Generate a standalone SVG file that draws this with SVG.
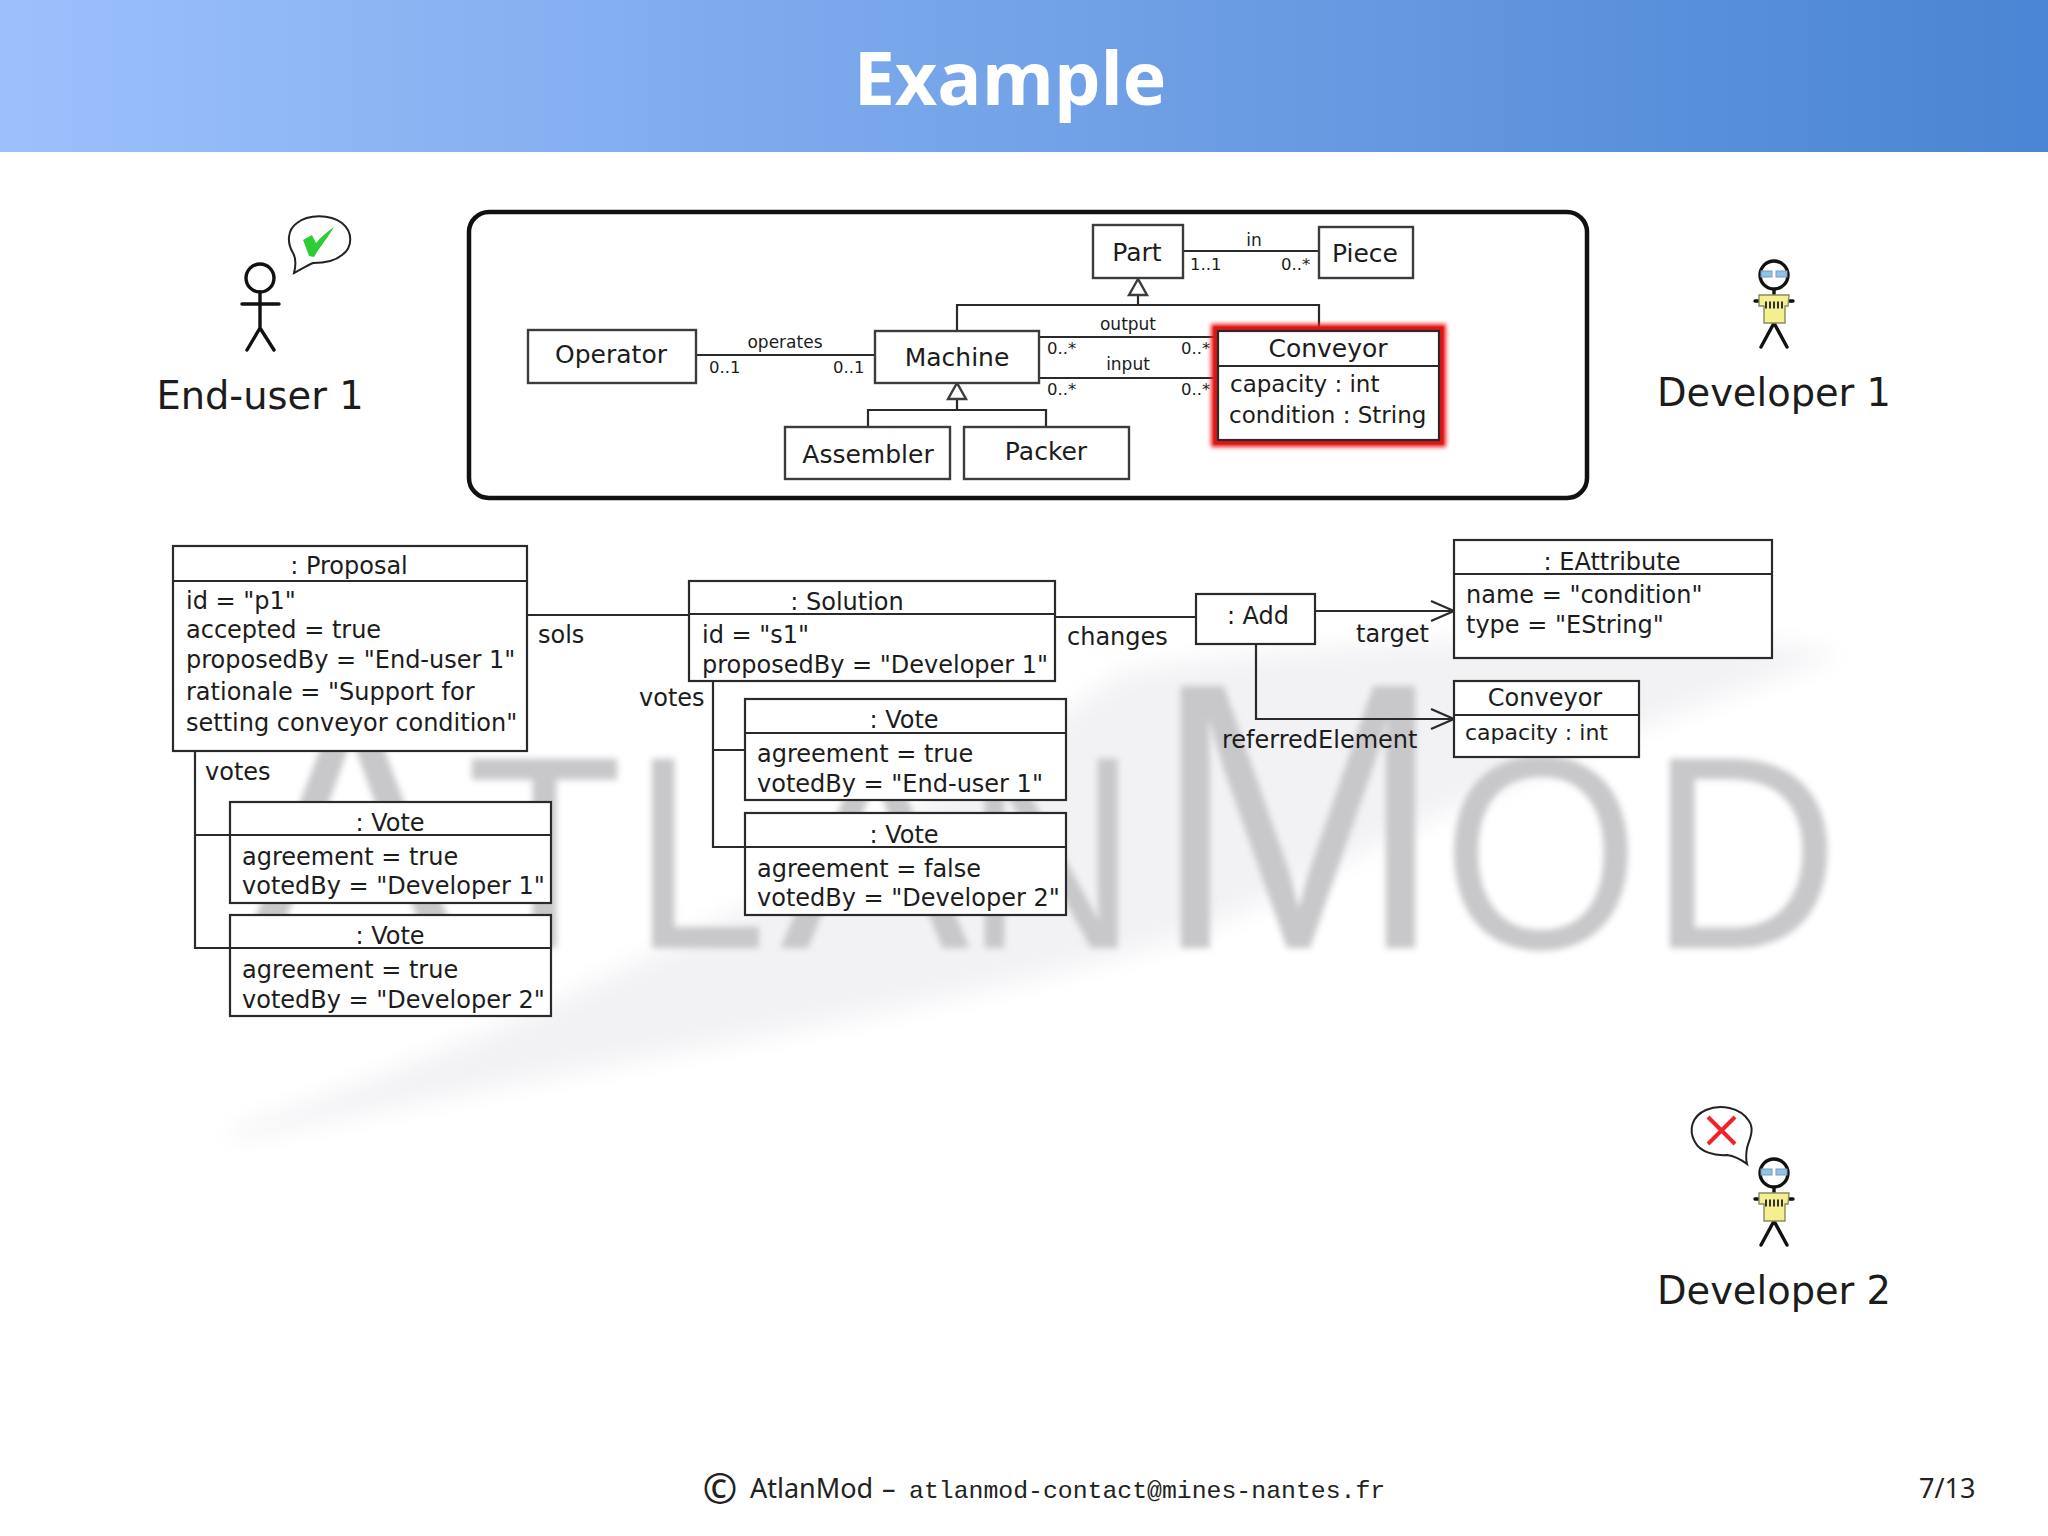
<svg xmlns="http://www.w3.org/2000/svg" xmlns:xlink="http://www.w3.org/1999/xlink" width="2048" height="1536" viewBox="0 0 2048 1536">
<style>
text{font-family:"DejaVu Sans",sans-serif;fill:#1c1c1c}
.box{fill:#fff;stroke:#2a2a2a;stroke-width:2.2}
.cls{fill:#fff;stroke:#3c3c3c;stroke-width:2.4}
.ln{fill:none;stroke:#2a2a2a;stroke-width:2.2}
.s25{font-size:25px}.s24{font-size:24px}.s23{font-size:23px}.s22{font-size:22px}.s17{font-size:17px}.s16{font-size:16.5px}.s37{font-size:38.4px}
.m{text-anchor:middle}
.wm{font-family:"Liberation Sans",sans-serif;fill:#c8c7ca}
.fo{font-family:"Noto Sans",sans-serif;font-size:27px;fill:#222}
.st{fill:none;stroke:#111;stroke-width:3.4;stroke-linecap:round}
.bub{fill:#fff;stroke:#222;stroke-width:2}
</style>
<defs>
<linearGradient id="hd" x1="0" x2="1" y1="0" y2="0"><stop offset="0" stop-color="#9cc0fc"/><stop offset="1" stop-color="#4a85d3"/></linearGradient>
<filter id="b8" x="-10%" y="-10%" width="120%" height="120%"><feGaussianBlur stdDeviation="3"/></filter>
<filter id="b16" x="-10%" y="-30%" width="120%" height="160%"><feGaussianBlur stdDeviation="12"/></filter>
<filter id="gl" x="-10%" y="-10%" width="120%" height="120%"><feGaussianBlur stdDeviation="2"/></filter>
<g id="dev">
<path class="st" d="M0,14V21M-19,26H19M0,48L-13,72M0,48L13,72"/>
<circle r="14" fill="#fff" stroke="#111" stroke-width="3.4"/>
<rect x="-13" y="-4" width="11" height="6" fill="#8fc4ea" stroke="#7a9ab5"/>
<rect x="2" y="-4" width="11" height="6" fill="#8fc4ea" stroke="#7a9ab5"/>
<path d="M-15,20H15L14,31H11V48H-10V31H-15Z" fill="#f5f08f" stroke="#8a8a60" stroke-width="1.4"/>
<path d="M-9,30H10" stroke="#333" stroke-width="7" stroke-dasharray="2 2" fill="none"/>
</g>
</defs>
<rect width="2048" height="1536" fill="#fff"/>
<g id="watermark">
<path d="M232,1140C600,1060 900,1020 1176,940C1330,880 1440,790 1840,655C1700,625 1300,640 1122,673C950,800 600,1010 232,1130Z" fill="#f2f1f4" filter="url(#b16)"/>
<g filter="url(#b8)">
<text class="wm" x="243" y="948" font-size="345" textLength="217" lengthAdjust="spacingAndGlyphs">A</text>
<text class="wm" x="466" y="948" font-size="275" textLength="157" lengthAdjust="spacingAndGlyphs">T</text>
<text class="wm" x="632" y="948" font-size="275" textLength="135" lengthAdjust="spacingAndGlyphs">L</text>
<text class="wm" x="780" y="948" font-size="275" textLength="190" lengthAdjust="spacingAndGlyphs">A</text>
<text class="wm" x="965" y="948" font-size="275" textLength="172" lengthAdjust="spacingAndGlyphs">N</text>
<text class="wm" x="1152" y="948" font-size="381" textLength="292" lengthAdjust="spacingAndGlyphs">M</text>
<text class="wm" x="1442" y="948" font-size="275" textLength="198" lengthAdjust="spacingAndGlyphs">O</text>
<text class="wm" x="1648" y="948" font-size="275" textLength="192" lengthAdjust="spacingAndGlyphs">D</text>
</g>
</g>
<rect id="header" width="2048" height="152" fill="url(#hd)"/>
<text id="title" x="1010" y="105" text-anchor="middle" style="font-family:'Open Sans',sans-serif;font-weight:700;font-size:73.5px;fill:#fff">Example</text>
<rect id="frame" x="469" y="212" width="1118" height="286" rx="20" fill="#fff" stroke="#111" stroke-width="4.5"/>
<g id="actor-enduser1">
<circle cx="260" cy="278" r="14" fill="#fff" stroke="#111" stroke-width="3.4"/>
<path class="st" d="M260,292V328M242,304H279M260,328L247,350M260,328L274,350"/>
<path class="bub" d="M294,273C296,265 296,258 293,253C287,243 287,230 297,223C308,214 330,214 342,223C353,232 353,247 342,255C334,262 320,263 313,263C306,266 300,270 294,273Z"/>
<path d="M303,240L312,235L316,243C322,236 328,231 334,227C329,236 320,247 314,257L309,256C307,250 305,245 303,240Z" fill="#2ecc35"/>
<text class="s37 m" x="260" y="409">End-user 1</text>
</g>
<g id="actor-developer1">
<use xlink:href="#dev" href="#dev" x="1774" y="275"/>
<text class="s37 m" x="1774" y="406">Developer 1</text>
</g>
<g id="actor-developer2">
<use xlink:href="#dev" href="#dev" x="1774" y="1173"/>
<path class="bub" d="M1747,1164C1743,1161 1735,1156 1727,1155C1715,1156 1700,1152 1695,1142C1688,1130 1692,1116 1706,1110C1720,1104 1740,1107 1749,1121C1755,1130 1749,1140 1747,1148C1746,1154 1746,1160 1747,1164Z"/>
<path d="M1708,1117L1735,1144M1735,1117L1708,1144" stroke="#f2222a" stroke-width="4" fill="none"/>
<text class="s37 m" x="1774" y="1304">Developer 2</text>
</g>
<g id="connectors">
<path class="ln" d="M696,355H875"/>
<path class="ln" d="M957,399V410M868,427V410H1046V427"/>
<path class="ln" d="M1138,295V305M957,331V305H1319V331"/>
<path class="ln" d="M1039,337H1218M1039,378H1218"/>
<path class="ln" d="M1183,251H1319"/>
<path class="ln" d="M527,615H689"/>
<path class="ln" d="M195,751V948H230M195,835H230"/>
<path class="ln" d="M713,681V847H745M713,750H745"/>
<path class="ln" d="M1055,617H1196"/>
<path class="ln" d="M1315,611H1454M1431,601L1454,611L1431,621"/>
<path class="ln" d="M1256,644V719H1454M1431,709L1454,719L1431,729"/>
<path class="cls" d="M957,383L948,399H966Z"/>
<path class="cls" d="M1138,279L1129,295H1147Z"/>
</g>
<g id="edge-labels">
<text class="s17 m" x="785" y="348">operates</text>
<text class="s16" x="709" y="373">0..1</text><text class="s16" x="833" y="373">0..1</text>
<text class="s16" x="1047" y="354">0..*</text><text class="s16" x="1047" y="395">0..*</text>
<text class="s16" x="1181" y="354">0..*</text><text class="s16" x="1181" y="395">0..*</text>
<text class="s17 m" x="1128" y="330">output</text><text class="s17 m" x="1128" y="370">input</text>
<text class="s17 m" x="1254" y="246">in</text>
<text class="s16" x="1190" y="270">1..1</text><text class="s16" x="1281" y="270">0..*</text>
<text class="s24" x="538" y="643">sols</text>
<text class="s24" x="205" y="780">votes</text>
<text class="s24" x="639" y="706">votes</text>
<text class="s24" x="1067" y="645">changes</text>
<text class="s24" x="1356" y="642">target</text>
<text class="s24" x="1222" y="748">referredElement</text>
</g>
<g id="class-operator"><rect class="cls" x="528" y="330" width="168" height="53"/><text class="s25 m" x="611" y="363">Operator</text></g>
<g id="class-machine"><rect class="cls" x="875" y="331" width="164" height="52"/><text class="s25 m" x="957" y="366">Machine</text></g>
<g id="class-assembler"><rect class="cls" x="785" y="427" width="165" height="52"/><text class="s25 m" x="868" y="463">Assembler</text></g>
<g id="class-packer"><rect class="cls" x="964" y="427" width="165" height="52"/><text class="s25 m" x="1046" y="460">Packer</text></g>
<g id="class-part"><rect class="cls" x="1093" y="225" width="90" height="53"/><text class="s25 m" x="1137" y="261">Part</text></g>
<g id="class-piece"><rect class="cls" x="1319" y="227" width="94" height="51"/><text class="s25 m" x="1365" y="262">Piece</text></g>
<g id="class-conveyor">
<rect x="1215" y="328" width="227" height="115" fill="none" stroke="#f01c1c" stroke-width="8" filter="url(#gl)"/>
<rect x="1216" y="329" width="225" height="113" fill="none" stroke="#d81818" stroke-width="5"/>
<rect class="box" x="1218" y="331" width="221" height="109"/>
<path class="ln" d="M1218,366H1439"/>
<text class="s25 m" x="1328" y="357">Conveyor</text>
<text class="s23" x="1230" y="392">capacity : int</text>
<text class="s23" x="1229" y="423">condition : String</text>
</g>
<g id="obj-proposal">
<rect class="box" x="173" y="546" width="354" height="205"/><path class="ln" d="M173,581H527"/>
<text class="s24 m" x="349" y="574">: Proposal</text>
<text class="s24" x="186" y="609">id = "p1"</text>
<text class="s24" x="186" y="638">accepted = true</text>
<text class="s24" x="186" y="668">proposedBy = "End-user 1"</text>
<text class="s24" x="186" y="700">rationale = "Support for</text>
<text class="s24" x="186" y="731">setting conveyor condition"</text>
</g>
<g id="obj-vote-d1">
<rect class="box" x="230" y="802" width="321" height="101"/><path class="ln" d="M230,835H551"/>
<text class="s24 m" x="390" y="831">: Vote</text>
<text class="s24" x="242" y="865">agreement = true</text>
<text class="s24" x="242" y="894">votedBy = "Developer 1"</text>
</g>
<g id="obj-vote-d2">
<rect class="box" x="230" y="915" width="321" height="101"/><path class="ln" d="M230,948H551"/>
<text class="s24 m" x="390" y="944">: Vote</text>
<text class="s24" x="242" y="978">agreement = true</text>
<text class="s24" x="242" y="1008">votedBy = "Developer 2"</text>
</g>
<g id="obj-solution">
<rect class="box" x="689" y="581" width="366" height="100"/><path class="ln" d="M689,614H1055"/>
<text class="s24 m" x="847" y="610">: Solution</text>
<text class="s24" x="702" y="643">id = "s1"</text>
<text class="s24" x="702" y="673">proposedBy = "Developer 1"</text>
</g>
<g id="obj-vote-e1">
<rect class="box" x="745" y="699" width="321" height="101"/><path class="ln" d="M745,733H1066"/>
<text class="s24 m" x="904" y="728">: Vote</text>
<text class="s24" x="757" y="762">agreement = true</text>
<text class="s24" x="757" y="792">votedBy = "End-user 1"</text>
</g>
<g id="obj-vote-d2b">
<rect class="box" x="745" y="813" width="321" height="102"/><path class="ln" d="M745,847H1066"/>
<text class="s24 m" x="904" y="843">: Vote</text>
<text class="s24" x="757" y="877">agreement = false</text>
<text class="s24" x="757" y="906">votedBy = "Developer 2"</text>
</g>
<g id="obj-add"><rect class="box" x="1196" y="594" width="119" height="50"/><text class="s24 m" x="1258" y="624">: Add</text></g>
<g id="obj-eattribute">
<rect class="box" x="1454" y="540" width="318" height="118"/><path class="ln" d="M1454,574H1772"/>
<text class="s24 m" x="1612" y="570">: EAttribute</text>
<text class="s24" x="1466" y="603">name = "condition"</text>
<text class="s24" x="1466" y="633">type = "EString"</text>
</g>
<g id="obj-conveyor">
<rect class="box" x="1454" y="681" width="185" height="76"/><path class="ln" d="M1454,715H1639"/>
<text class="s24 m" x="1545" y="706">Conveyor</text>
<text class="s22" x="1465" y="740">capacity : int</text>
</g>
<g id="footer">
<text class="fo" x="720" y="1504" text-anchor="middle" style="font-size:42px">©</text>
<text class="fo" x="750" y="1498">AtlanMod</text>
<text class="fo" x="882" y="1498">–</text>
<text x="909" y="1498" style="font-family:'Liberation Mono',monospace;font-size:24.8px;fill:#222">atlanmod-contact@mines-nantes.fr</text>
<text class="fo" x="1919" y="1498">7/13</text>
</g>
</svg>
